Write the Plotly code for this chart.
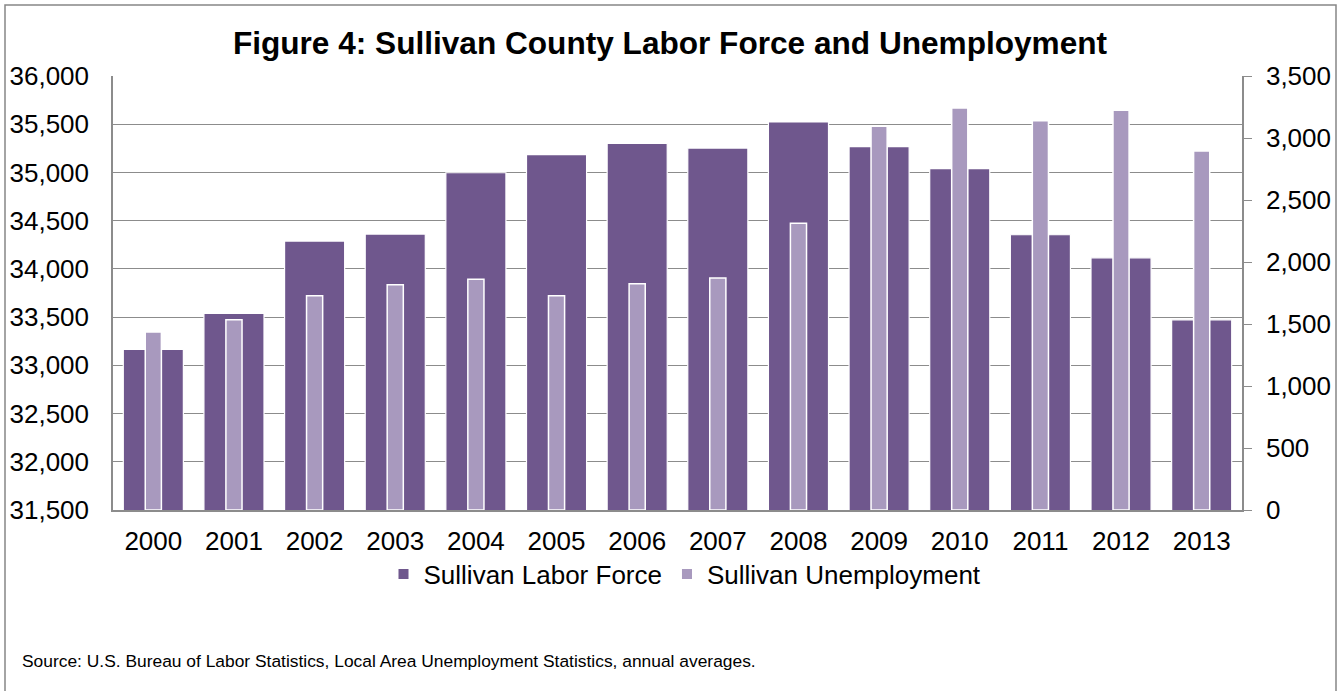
import plotly.graph_objects as go

years = ["2000", "2001", "2002", "2003", "2004", "2005", "2006",
         "2007", "2008", "2009", "2010", "2011", "2012", "2013"]
labor_force = [33165, 33538, 34288, 34361, 34997, 35184, 35302,
               35253, 35523, 35267, 35039, 34354, 34115, 33472]
unemployment = [1435, 1534, 1727, 1816, 1860, 1727, 1824,
                1870, 2312, 3094, 3242, 3140, 3223, 2895]

left_ticks = list(range(31500, 36001, 500))
right_ticks = list(range(0, 3501, 500))

FONT = "Liberation Sans, Arial, sans-serif"
DARK = "rgb(111,87,141)"
LIGHT = "rgb(168,153,190)"
GRID = "rgb(140,140,140)"

W, H = 1340, 691
L, R, T, B = 113, 1242, 76, 510  # plot area pixel edges
PW, PH = R - L, B - T

def px(x):
    return (x - L) / PW

def py(y):
    return (B - y) / PH

fig = go.Figure()
fig.add_trace(go.Bar(
    x=years, y=labor_force, name="Sullivan Labor Force",
    marker=dict(color=DARK, line=dict(color="white", width=1.2)),
    width=0.745, yaxis="y",
))
fig.add_trace(go.Bar(
    x=years, y=unemployment, name="Sullivan Unemployment",
    marker=dict(color=LIGHT, line=dict(color="white", width=1.5)),
    width=0.2, yaxis="y2",
))

fig.update_layout(
    width=W, height=H,
    margin=dict(l=L, r=W - R, t=T, b=H - B, autoexpand=False),
    paper_bgcolor="white", plot_bgcolor="white",
    barmode="overlay",
    font=dict(family=FONT, size=26, color="black"),
    title=dict(
        text="<b>Figure 4: Sullivan County Labor Force and Unemployment</b>",
        x=0.5, xref="container", xanchor="center",
        y=1 - 43 / H, yref="container", yanchor="middle",
        font=dict(family=FONT, size=31.6, color="black"),
    ),
    xaxis=dict(
        type="category", showgrid=False, showline=True,
        linecolor=GRID, linewidth=1.5, ticks="",
        ticklabelstandoff=7,
        tickfont=dict(size=26), range=[-0.5, 13.5],
    ),
    yaxis=dict(
        range=[31500, 36000], tickvals=left_ticks,
        tickformat=",d", showgrid=True, gridcolor=GRID, gridwidth=1.3,
        showline=True, linecolor=GRID, linewidth=1.5, ticks="",
        ticklabelstandoff=17, zeroline=False,
        tickfont=dict(size=26),
    ),
    yaxis2=dict(
        range=[0, 3500], tickvals=right_ticks, tickformat=",d",
        overlaying="y", side="right", showgrid=False,
        showline=True, linecolor=GRID, linewidth=1.5,
        ticks="outside", ticklen=8, tickcolor=GRID, tickwidth=1.3,
        ticklabelstandoff=9, zeroline=False,
        tickfont=dict(size=26),
    ),
    legend=dict(
        orientation="h", x=px(685), xanchor="center",
        y=py(574), yanchor="middle",
        font=dict(size=26), bgcolor="rgba(0,0,0,0)",
        itemsizing="constant", tracegroupgap=0, itemwidth=30,
    ),
    showlegend=True,
)

fig.add_annotation(
    text="Source: U.S. Bureau of Labor Statistics, Local Area Unemployment Statistics, annual averages.",
    xref="paper", yref="paper", x=px(20), y=py(661),
    xanchor="left", yanchor="middle", showarrow=False,
    font=dict(family=FONT, size=17.4, color="black"),
)

fig.add_shape(
    type="rect", xref="paper", yref="paper",
    x0=px(5), x1=px(1336), y0=py(5), y1=py(700),
    line=dict(color="rgb(134,134,134)", width=1.5), fillcolor="rgba(0,0,0,0)",
    layer="below",
)

fig.write_html(
    "out.html",
    config={"displayModeBar": False},
    post_script="document.body.style.margin='0';document.documentElement.style.overflow='hidden';",
)
